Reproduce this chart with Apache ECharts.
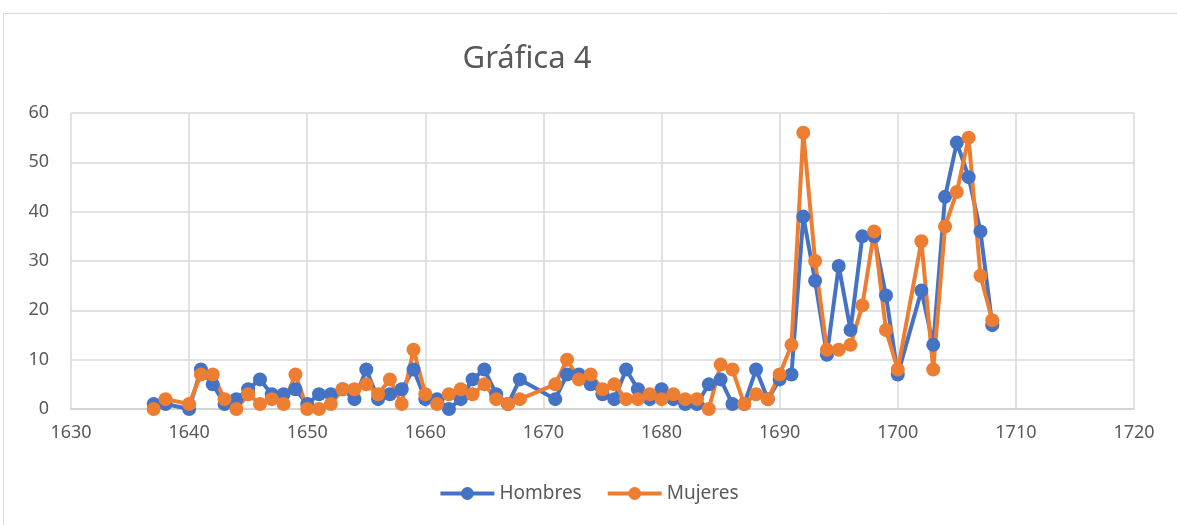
<!DOCTYPE html>
<html>
<head>
<meta charset="utf-8">
<script src="https://cdn.jsdelivr.net/npm/echarts@6/dist/echarts.min.js"></script>
<style>
  html, body { margin: 0; padding: 0; background: #fff; }
  #main { width: 1177px; height: 525px; }
</style>
</head>
<body>
<div id="main"></div>
<script>
// años con datos (faltan 1639, 1669, 1670, 1701)
const years = [
  1637, 1638, 1640, 1641, 1642, 1643, 1644, 1645, 1646, 1647, 1648, 1649,
  1650, 1651, 1652, 1653, 1654, 1655, 1656, 1657, 1658, 1659,
  1660, 1661, 1662, 1663, 1664, 1665, 1666, 1667, 1668,
  1671, 1672, 1673, 1674, 1675, 1676, 1677, 1678, 1679,
  1680, 1681, 1682, 1683, 1684, 1685, 1686, 1687, 1688, 1689,
  1690, 1691, 1692, 1693, 1694, 1695, 1696, 1697, 1698, 1699, 1700,
  1702, 1703, 1704, 1705, 1706, 1707, 1708
]
const hombres = [
  1, 1, 0, 8, 5, 1, 2, 4, 6, 3, 3, 4,
  1, 3, 3, 4, 2, 8, 2, 3, 4, 8,
  2, 2, 0, 2, 6, 8, 3, 1, 6,
  2, 7, 7, 5, 3, 2, 8, 4, 2,
  4, 2, 1, 1, 5, 6, 1, 1, 8, 2,
  6, 7, 39, 26, 11, 29, 16, 35, 35, 23, 7,
  24, 13, 43, 54, 47, 36, 17
]
const mujeres = [
  0, 2, 1, 7, 7, 2, 0, 3, 1, 2, 1, 7,
  0, 0, 1, 4, 4, 5, 3, 6, 1, 12,
  3, 1, 3, 4, 3, 5, 2, 1, 2,
  5, 10, 6, 7, 4, 5, 2, 2, 3,
  2, 3, 2, 2, 0, 9, 8, 1, 3, 2,
  7, 13, 56, 30, 12, 12, 13, 21, 36, 16, 8,
  34, 8, 37, 44, 55, 27, 18
]
const seriesNames = ['Hombres', 'Mujeres']
const colors = ['#4472C4', '#ED7D31']

const txt = '#595959'
const font = '"Noto Sans", sans-serif'

const chart = echarts.init(document.getElementById('main'))

function mkSeries(name, vals, color) {
  return {
    name: name,
    type: 'line',
    data: years.map((y, i) => [y, vals[i]]),
    symbol: 'circle',
    symbolSize: 14,
    color: color,
    lineStyle: { width: 4, color: color },
    itemStyle: { color: color },
    animation: false
  }
}

chart.setOption({
  backgroundColor: '#fff',
  title: {
    text: 'Gráfica 4',
    left: 522,
    top: 39,
    textAlign: 'center',
    textStyle: { color: txt, fontSize: 31, fontWeight: 'normal', fontFamily: font }
  },
  // marco del gráfico
  graphic: [{
    type: 'rect',
    shape: { x: 3.5, y: 13.5, width: 1300, height: 600 },
    style: { fill: 'none', stroke: '#d9d9d9', lineWidth: 1 },
    silent: true
  }],
  legend: {
    data: seriesNames,
    left: 'center',
    top: 479,
    itemWidth: 54,
    itemHeight: 16,
    itemGap: 24,
    lineStyle: { width: 4 },
    textStyle: { color: txt, fontSize: 19, fontFamily: font }
  },
  grid: { left: 71, right: 43, top: 113, bottom: 116 },
  xAxis: {
    type: 'value',
    min: 1630,
    max: 1720,
    interval: 10,
    axisLine: { show: true, lineStyle: { color: '#d0d0d0', width: 1.5 } },
    axisTick: { show: false },
    axisLabel: { color: txt, fontSize: 18, fontFamily: font, margin: 15, formatter: v => String(v) },
    splitLine: { show: true, lineStyle: { color: '#d9d9d9', width: 1.5 } }
  },
  yAxis: {
    type: 'value',
    min: 0,
    max: 60,
    interval: 10,
    axisLine: { show: false },
    axisTick: { show: false },
    axisLabel: { color: txt, fontSize: 18, fontFamily: font, margin: 22 },
    splitLine: { lineStyle: { color: '#d9d9d9', width: 1.5 } }
  },
  series: [
    mkSeries(seriesNames[0], hombres, colors[0]),
    mkSeries(seriesNames[1], mujeres, colors[1])
  ]
})
</script>
</body>
</html>
